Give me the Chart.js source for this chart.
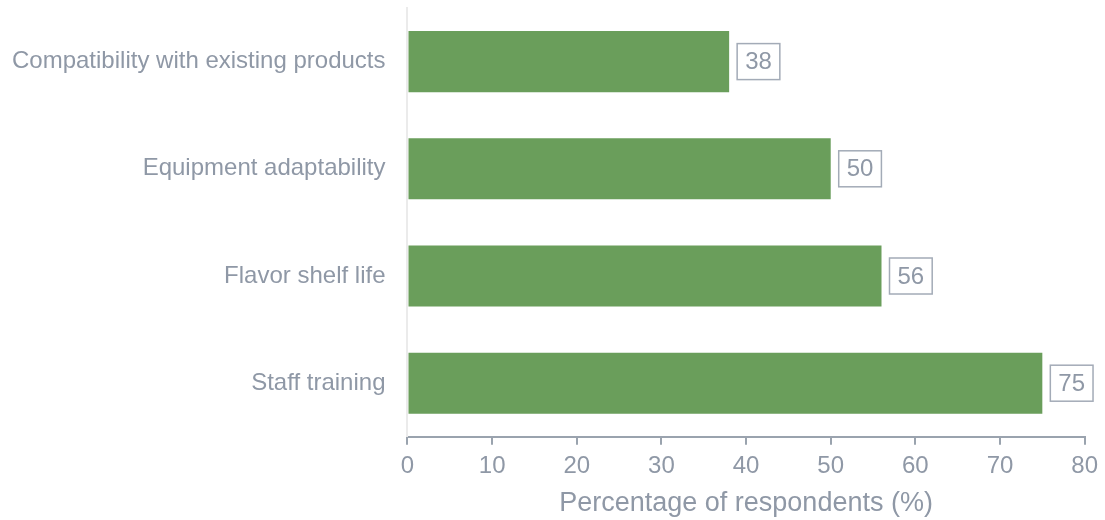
<!DOCTYPE html>
<html>
<head>
<meta charset="utf-8">
<script src="https://cdn.jsdelivr.net/npm/chart.js@4.4.1/dist/chart.umd.min.js"></script>
<style>
    html, body { margin: 0; padding: 0; background: #ffffff; }
    #wrap { width: 1105px; height: 520px; position: relative; }
</style>
</head>
<body>
<div id="wrap"><canvas id="barrier-chart"></canvas></div>
<script>
// Barreras de adopción
const categories = [
    'Compatibility with existing products',
    'Equipment adaptability',
    'Flavor shelf life',
    'Staff training'
];
const respondents = [38, 50, 56, 75];
const xTicks = [0, 10, 20, 30, 40, 50, 60, 70, 80];

const textColor = '#8f98a6';
const fontFamily = '"Liberation Sans", Arial, sans-serif';

// Etiquetas de valor en caja blanca con borde gris
const valueBoxes = {
    id: 'valueBoxes',
    afterDatasetsDraw(chart) {
        const ctx = chart.ctx;
        const meta = chart.getDatasetMeta(0);
        ctx.save();
        ctx.font = '24px ' + fontFamily;
        ctx.textAlign = 'center';
        ctx.textBaseline = 'middle';
        meta.data.forEach((bar, i) => {
            const text = String(respondents[i]);
            const w = ctx.measureText(text).width + 16;
            const h = 36;
            const x = bar.x + 8;
            const y = bar.y - h / 2;
            ctx.fillStyle = '#ffffff';
            ctx.fillRect(x, y, w, h);
            ctx.strokeStyle = '#a3abb7';
            ctx.lineWidth = 1.5;
            ctx.strokeRect(x, y, w, h);
            ctx.fillStyle = textColor;
            ctx.fillText(text, x + w / 2, bar.y + 1);
        });
        ctx.restore();
    }
};

new Chart(document.getElementById('barrier-chart'), {
    type: 'bar',
    data: {
        labels: categories,
        datasets: [{
            data: respondents,
            backgroundColor: '#6a9e5b',
            borderWidth: 0,
            categoryPercentage: 1,
            barPercentage: 0.57
        }]
    },
    options: {
        indexAxis: 'y',
        responsive: true,
        maintainAspectRatio: false,
        animation: false,
        layout: { padding: { top: 8, right: 7, left: 12, bottom: -7 } },
        plugins: {
            legend: { display: false },
            tooltip: { enabled: false }
        },
        scales: {
            x: {
                min: 0,
                max: 80,
                afterBuildTicks(axis) {
                    axis.ticks = xTicks.map(v => ({ value: v }));
                },
                border: { color: '#9aa3ae', width: 2 },
                grid: {
                    drawOnChartArea: false,
                    color: '#9aa3ae',
                    lineWidth: 2,
                    tickLength: 8
                },
                ticks: {
                    color: textColor,
                    font: { size: 24, family: fontFamily },
                    padding: 7
                },
                title: {
                    display: true,
                    text: 'Percentage of respondents (%)',
                    color: textColor,
                    font: { size: 27, family: fontFamily },
                    padding: { top: 0, bottom: 7 }
                }
            },
            y: {
                afterFit(axis) {
                    axis.paddingTop = 0;
                    axis.paddingBottom = 0;
                    axis.width -= 22;
                },
                border: { color: '#ebebeb', width: 2 },
                grid: { display: true, drawOnChartArea: false, drawTicks: false },
                ticks: {
                    color: textColor,
                    font: { size: 24, family: fontFamily },
                    padding: 22
                }
            }
        }
    },
    plugins: [valueBoxes]
});
</script>
</body>
</html>
